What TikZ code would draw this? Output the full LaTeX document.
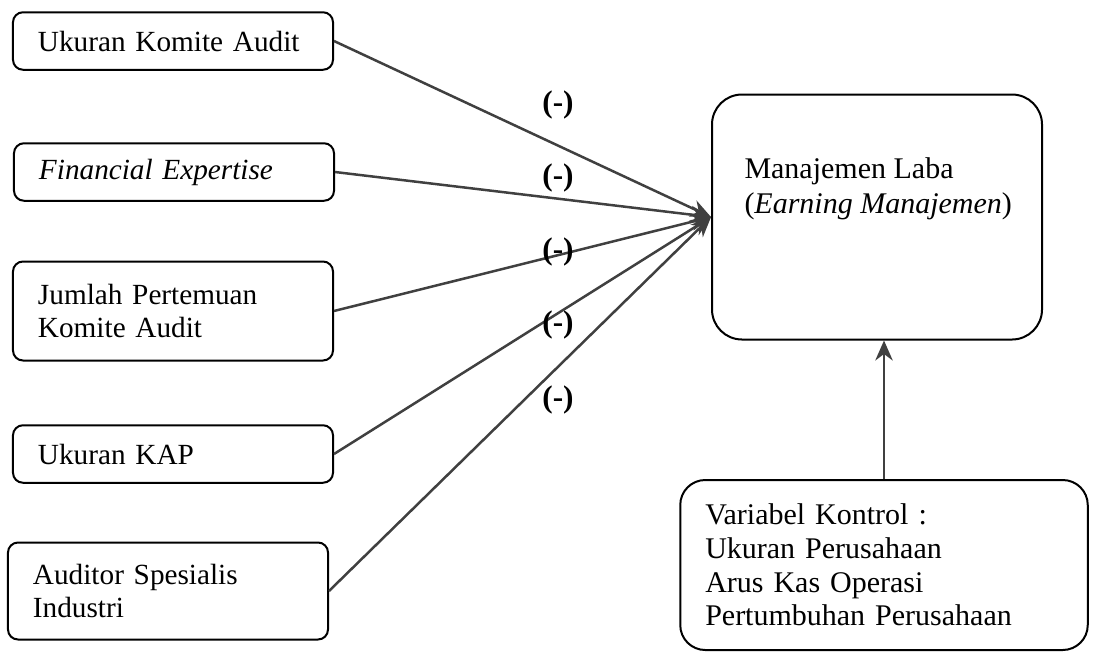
\documentclass[tikz,border=0pt]{standalone}
\usepackage{fontspec}
\setmainfont{Liberation Serif}
\usepackage{tikz}
\usetikzlibrary{arrows.meta, positioning, calc}

\tikzset{
  varbox/.style={draw, thick, rounded corners=4pt, text width=108pt, inner xsep=10pt,
    minimum height=23pt, align=left, font=\fontsize{11.7}{13.4}\selectfont},
  link/.style={draw=black!75, line width=1pt, -{Stealth[length=8pt,width=7pt]}},
  minus/.style={font=\bfseries\fontsize{12.5}{14}\selectfont}
}

\begin{document}
\begin{tikzpicture}[x=0.4pt, y=-0.4pt]
  \useasboundingbox (0,0) rectangle (1093,655);

  % Independent variables
  \node[varbox] (uka) at (173,41) {Ukuran Komite Audit};
  \node[varbox] (fin) at (174,172) {\textit{Financial Expertise}};
  \node[varbox, minimum height=39.6pt] (jpk) at (173,311) {Jumlah Pertemuan\\Komite Audit};
  \node[varbox] (kap) at (173,454) {Ukuran KAP};
  \node[varbox, minimum height=38.8pt] (asi) at (168,591) {Auditor Spesialis\\Industri};

  % Dependent variable
  \node[draw, thick, rounded corners=12pt, minimum width=132pt, minimum height=98pt] (laba) at (877,217) {};
  \node[anchor=north west, align=left, inner sep=0pt, font=\fontsize{12}{14}\selectfont]
    (labatxt) at ($(laba.north west)+(33,64)$) {Manajemen Laba\\(\textit{Earning Manajemen})};

  % Control variables
  \node[draw, thick, rounded corners=10pt, minimum width=163pt, minimum height=68pt,
    text width=143pt, inner xsep=10pt, align=left, font=\fontsize{12}{13.5}\selectfont]
    (kontrol) at (884,565) {Variabel Kontrol :\\Ukuran Perusahaan\\Arus Kas Operasi\\Pertumbuhan Perusahaan};

  % Arrows
  \foreach \v in {uka, fin, jpk, kap, asi}
    \draw[link] (\v.east) -- (laba.west);
  \draw[link] (kontrol.north) -- (kontrol.north |- laba.south);

  % Signs
  \foreach \y [count=\i] in {105, 178, 252, 325, 400}
    \node[minus] (neg\i) at (558,\y) {(-)};
\end{tikzpicture}
\end{document}
